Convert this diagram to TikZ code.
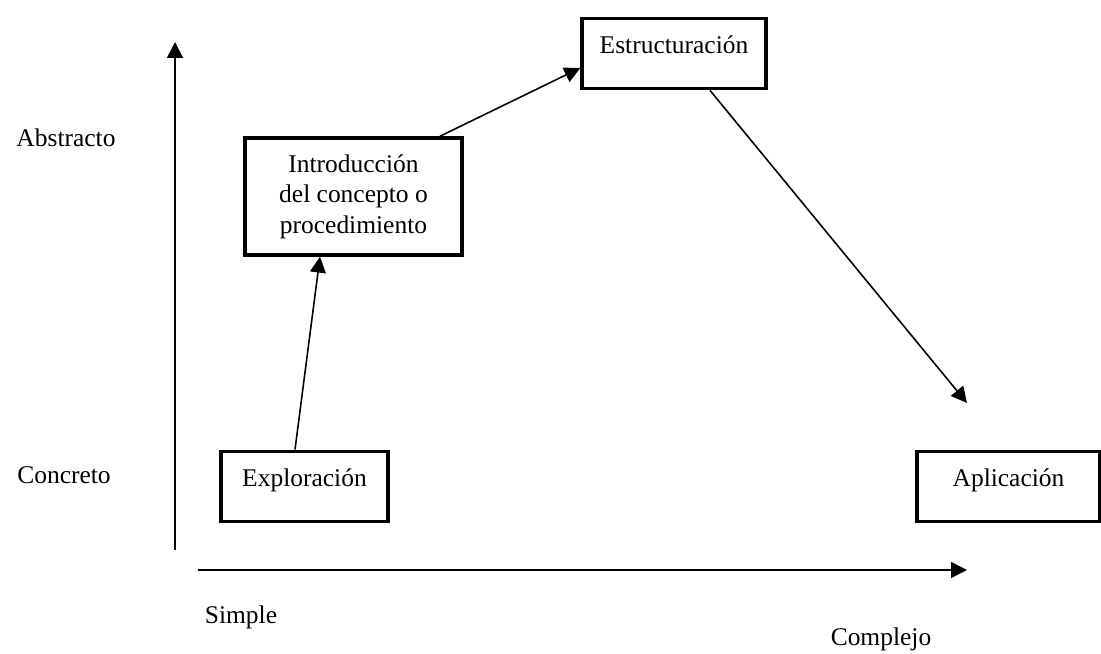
\documentclass[tikz,border=0pt]{standalone}
\usepackage{fontspec}
\setmainfont{Liberation Serif}
\usetikzlibrary{arrows.meta,calc}

\tikzset{
  stagebox/.style={draw, line width=2pt, inner sep=0pt, align=center,
    font=\fontsize{14.5}{17.4}\selectfont},
  axislabel/.style={font=\fontsize{14.5}{17.4}\selectfont},
  flow/.style={line width=0.9pt, -{Triangle[length=9pt,width=9pt]}}
}

\begin{document}
\begin{tikzpicture}
\useasboundingbox (0,0) rectangle (22.02,13.08);

% axes
\coordinate (ybot) at (3.5,2.08);
\coordinate (ytop) at (3.5,12.24);
\coordinate (xleft) at (3.96,1.68);
\coordinate (xright) at (19.34,1.68);
\draw[flow] (ybot) -- (ytop);
\draw[flow] (xleft) -- (xright);

\node[axislabel] at (1.32,10.32) (abs) {Abstracto};
\node[axislabel] at (1.28,3.58) (con) {Concreto};
\node[axislabel] at (4.82,0.74) (sim) {Simple};
\node[axislabel] at (17.62,0.3) (com) {Complejo};

% stages
\node[stagebox, minimum width=3.34cm, text height=20pt, text depth=20pt] at (6.09,3.35) (expl) {Exploración};
\node[stagebox, minimum width=4.34cm, minimum height=2.34cm] at (7.07,9.15) (intro) {Introducción\\del concepto o\\procedimiento};
\node[stagebox, minimum width=3.68cm, text height=20pt, text depth=20pt] at (13.48,12.01) (estr) {Estructuración};
\node[stagebox, minimum width=3.66cm, text height=20pt, text depth=20pt] at (20.17,3.35) (apl) {Aplicación};

\coordinate (aplend) at (19.34,5.02);

\draw[flow] ($(expl.north)+(-0.19,0)$) -- ($(intro.south)+(-0.67,0)$);
\draw[flow] ($(intro.north)+(1.73,0)$) -- ($(estr.west)+(0,-0.29)$);
\draw[flow] ($(estr.south)+(0.72,0)$) -- (aplend);

\end{tikzpicture}
\end{document}
